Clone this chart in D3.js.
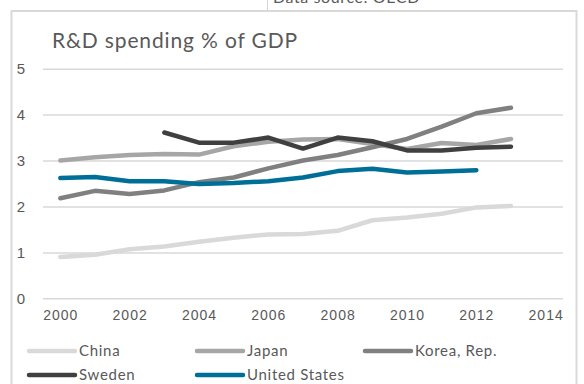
<!DOCTYPE html>
<html>
<head>
<meta charset="utf-8">
<script src="https://cdn.jsdelivr.net/npm/d3@7"></script>
<style>
  html, body { margin: 0; padding: 0; background: #fff; }
  svg { display: block; font-family: "Century Gothic", "URW Gothic", Lato, "DejaVu Sans", sans-serif; }
</style>
</head>
<body>
<svg id="chart" width="584" height="384"></svg>
<script>
// R&D expenditure as a share of GDP, by country and year (OECD)
const years = [2000, 2001, 2002, 2003, 2004, 2005, 2006, 2007, 2008, 2009, 2010, 2011, 2012, 2013];
const china  = [0.90, 0.95, 1.07, 1.13, 1.23, 1.32, 1.39, 1.40, 1.47, 1.70, 1.76, 1.84, 1.98, 2.01];
const japan  = [3.00, 3.07, 3.12, 3.14, 3.13, 3.31, 3.41, 3.46, 3.47, 3.36, 3.25, 3.38, 3.34, 3.47];
const korea  = [2.18, 2.34, 2.27, 2.35, 2.53, 2.63, 2.83, 3.00, 3.12, 3.29, 3.47, 3.74, 4.03, 4.15];
const sweden = [null, null, null, 3.61, 3.39, 3.39, 3.50, 3.26, 3.50, 3.42, 3.22, 3.22, 3.28, 3.30];
const usa    = [2.62, 2.64, 2.55, 2.55, 2.49, 2.51, 2.55, 2.63, 2.77, 2.82, 2.74, 2.76, 2.79, null];
const seriesNames = ["China", "Japan", "Korea, Rep.", "Sweden", "United States"];
const seriesColors = ["#d9d9d9", "#a6a6a6", "#808080", "#404040", "#006f97"];
const yTicks = [0, 1, 2, 3, 4, 5];
const xTicks = [2000, 2002, 2004, 2006, 2008, 2010, 2012, 2014];

const seriesValues = [china, japan, korea, sweden, usa];
const series = seriesNames.map((name, i) => ({
  name, color: seriesColors[i],
  points: years.map((yr, j) => ({ year: yr, value: seriesValues[i][j] }))
}));

const svg = d3.select("#chart");
const textColor = "#595959";
const gridColor = "#d9d9d9";

// header strip above the chart frame
svg.append("line").attr("x1", 267.5).attr("x2", 267.5).attr("y1", 0).attr("y2", 10)
  .attr("stroke", "#d4d4d4").attr("stroke-width", 1);
svg.append("text").attr("x", 273).attr("y", 3).attr("font-size", 16).attr("fill", textColor)
  .attr("letter-spacing", 0.6).text("Data source: OECD");

// chart frame
svg.append("rect").attr("x", 11.5).attr("y", 11).attr("width", 565).attr("height", 390)
  .attr("fill", "#fff").attr("stroke", gridColor).attr("stroke-width", 2);

const x = d3.scaleLinear().domain([1999.5, 2014.5]).range([43, 563]);
const y = d3.scaleLinear().domain([0, 5]).range([298.3, 68.7]);

// gridlines and y labels
const yAxis = d3.axisLeft(y).tickValues(yTicks).tickSize(-(563 - 43)).tickFormat(d3.format("d"));
const gy = svg.append("g").attr("transform", "translate(43,0)").call(yAxis);
gy.select(".domain").remove();
gy.selectAll(".tick line").attr("stroke", gridColor).attr("stroke-width", 1.5);
gy.selectAll(".tick text").attr("fill", textColor).attr("font-size", 15)
  .attr("font-family", null).attr("text-anchor", "middle").attr("x", -22);

// x labels
const xAxis = d3.axisBottom(x).tickValues(xTicks).tickSize(0).tickFormat(d3.format("d")).tickPadding(12);
const gx = svg.append("g").attr("transform", "translate(0,298.3)").call(xAxis);
gx.select(".domain").remove();
gx.selectAll(".tick text").attr("fill", textColor).attr("font-size", 14)
  .attr("font-family", null).attr("letter-spacing", 1);

// title
svg.append("text").attr("x", 52).attr("y", 48).attr("font-size", 21).attr("fill", textColor)
  .attr("letter-spacing", 0.85).text("R&D spending % of GDP");

// series lines
const line = d3.line()
  .defined(d => d.value != null)
  .x(d => x(d.year))
  .y(d => y(d.value));

svg.append("g").selectAll("path").data(series).join("path")
  .attr("d", d => line(d.points))
  .attr("fill", "none")
  .attr("stroke", d => d.color)
  .attr("stroke-width", 4.5)
  .attr("stroke-linejoin", "round")
  .attr("stroke-linecap", "round");

// legend
const legendCols = [29, 197, 365];
const legendRows = [351, 375];
const lg = svg.append("g").selectAll("g").data(series).join("g")
  .attr("transform", (d, i) => `translate(${legendCols[i % 3]},${legendRows[Math.floor(i / 3)]})`);
lg.append("line").attr("x1", 0).attr("x2", 46).attr("y1", 0).attr("y2", 0)
  .attr("stroke", d => d.color).attr("stroke-width", 4.5).attr("stroke-linecap", "round");
lg.append("text").attr("x", 50).attr("y", 0).attr("dy", "0.35em")
  .attr("font-size", 15).attr("fill", textColor).attr("letter-spacing", 0.7).text(d => d.name);
</script>
</body>
</html>
